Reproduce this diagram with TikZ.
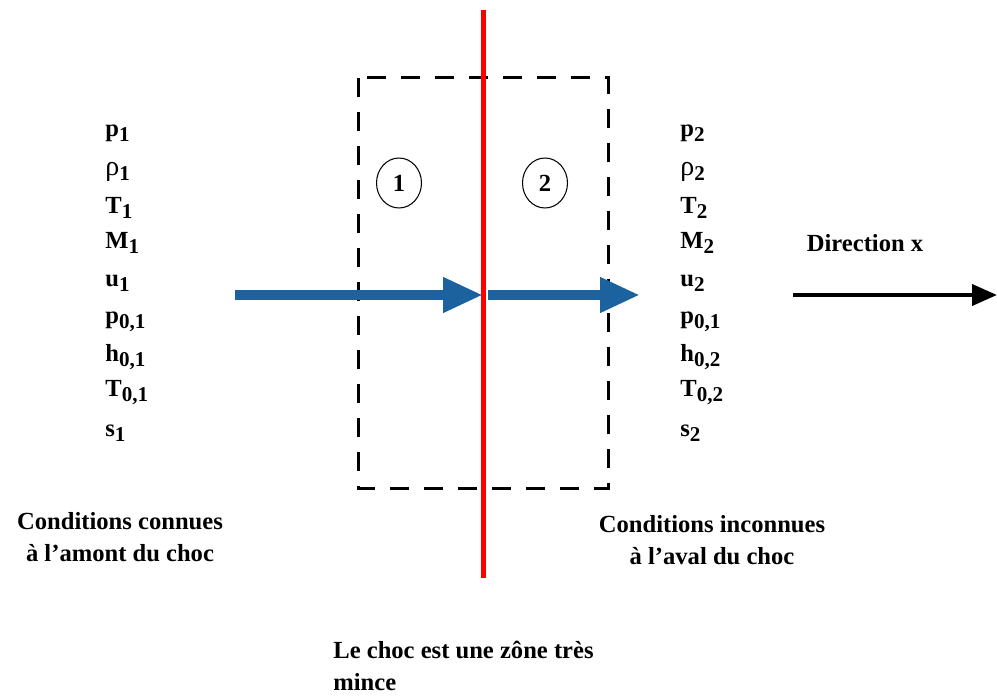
\documentclass[tikz,border=0pt]{standalone}
\usepackage{fontspec}
\setmainfont{Liberation Serif}
\usepackage{xcolor}
\usepackage{tikz}
\usetikzlibrary{arrows.meta,positioning,shapes.geometric}

\definecolor{flowblue}{RGB}{28,98,158}
\newcommand{\lowsub}[1]{\raisebox{-0.45ex}{\fontsize{12}{12}\selectfont #1}}

\begin{document}
\begin{tikzpicture}[
    x=0.02cm, y=-0.02cm,
    txt/.style={font=\fontsize{14}{16}\selectfont\bfseries, inner sep=0pt},
    var/.style={txt, anchor=west},
    zone/.style={ellipse, draw, semithick, minimum width=0.9cm, minimum height=1cm, txt},
    flow/.style={draw=flowblue, line width=0.2cm, -{Triangle[length=0.8cm,width=0.66cm]}},
    xarrow/.style={draw=black, line width=0.08cm, -{Triangle[length=0.5cm,width=0.42cm]}}
]
\useasboundingbox (0,0) rectangle (997,696);

% control volume and shock
\draw[line width=0.06cm, dash pattern=on 0.38cm off 0.3cm] (358,78) rectangle (608,488);
\coordinate (shocktop) at (483,10);
\coordinate (shockbot) at (483,578);
\draw[red, line width=0.1cm] (shocktop) -- (shockbot);

\node[zone] (zone1) at (399,183) {1};
\node[zone] (zone2) at (545,183) {2};

% flow arrows
\coordinate (inflow) at (235,295);
\coordinate (atshock) at (483,295);
\coordinate (pastshock) at (488,295);
\coordinate (outflow) at (640,295);
\draw[flow] (inflow) -- (atshock);
\draw[flow] (pastshock) -- (outflow);

% upstream state
\foreach \n/\y/\t in {a/133/p\lowsub{1}, b/172/{{\mdseries\fontsize{16}{16}\selectfont ρ}\lowsub{1}}, c/208/T\lowsub{1}, d/243/M\lowsub{1}, e/283/u\lowsub{1}, f/322/p\lowsub{0,1}, g/357/h\lowsub{0,1}, h/393/T\lowsub{0,1}, i/433/s\lowsub{1}}
  \node[var] (up\n) at (105,\y) {\t};

% downstream state
\foreach \n/\y/\t in {a/133/p\lowsub{2}, b/172/{{\mdseries\fontsize{16}{16}\selectfont ρ}\lowsub{2}}, c/208/T\lowsub{2}, d/243/M\lowsub{2}, e/283/u\lowsub{2}, f/322/p\lowsub{0,1}, g/357/h\lowsub{0,2}, h/393/T\lowsub{0,2}, i/433/s\lowsub{2}}
  \node[var] (down\n) at (680,\y) {\t};

% direction
\node[txt] (dirlabel) at (865,243) {Direction x};
\coordinate (dirstart) at (793,295);
\coordinate (dirend) at (997,295);
\draw[xarrow] (dirstart) -- (dirend);

% labels
\node[txt, align=center] (known) at (120,537) {Conditions connues\\[2pt]à l’amont du choc};
\node[txt, align=center] (unknown) at (712,540) {Conditions inconnues\\[2pt]à l’aval du choc};
\node[txt, align=left, anchor=west] (thin) at (333,666) {Le choc est une zône très\\[2pt]mince};

\end{tikzpicture}
\end{document}
